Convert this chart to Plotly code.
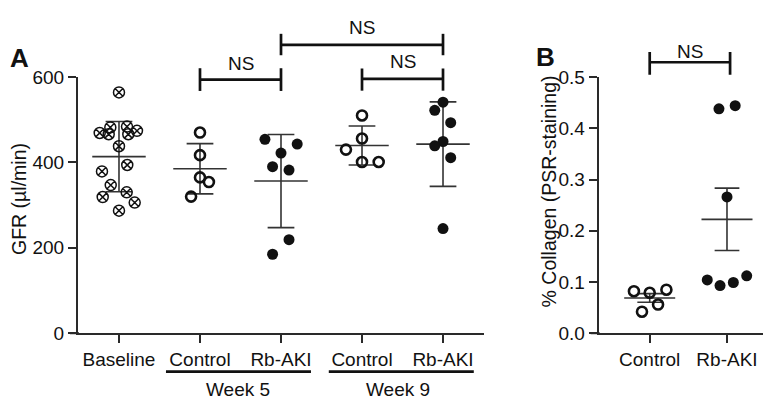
import numpy as np
import plotly.graph_objects as go

# ---------------- data ----------------
gfr_categories = ["Baseline", "Control", "Rb-AKI", "Control", "Rb-AKI"]
gfr_baseline = [564, 484, 482, 474, 469, 466, 466, 438, 394, 379, 347, 330, 319, 306, 287]
gfr_w5_control = [470, 417, 365, 354, 320]
gfr_w5_rbaki = [454, 443, 422, 390, 382, 219, 185]
gfr_w9_control = [510, 456, 430, 401, 401]
gfr_w9_rbaki = [541, 522, 493, 449, 439, 411, 245]
gfr_ticks = [0, 200, 400, 600]

col_categories = ["Control", "Rb-AKI"]
col_control = [0.082, 0.079, 0.085, 0.056, 0.042]
col_rbaki = [0.438, 0.444, 0.266, 0.104, 0.093, 0.099, 0.112]
col_ticks = [0.0, 0.1, 0.2, 0.3, 0.4, 0.5]

# horizontal jitter offsets (category units) for the dot plots
jit_baseline = [0, 0.099, -0.107, 0.222, -0.238, -0.127, 0.115, 0, 0.102, -0.21, -0.102, 0.095, -0.201, 0.194, 0]
jit_w5_control = [0, 0, 0, 0.11, -0.11]
jit_w5_rbaki = [-0.198, 0.2, 0, -0.104, 0.099, 0.099, -0.104]
jit_w9_control = [0, 0, -0.198, 0, 0.206]
jit_w9_rbaki = [0, -0.102, 0.095, 0, -0.102, 0.095, 0]
jit_col_control = [-0.204, 0, 0.216, 0.108, -0.1]
jit_col_rbaki = [-0.104, 0.106, 0, -0.255, -0.09, 0.082, 0.255]

FONT = "Arial, Liberation Sans, Helvetica, sans-serif"
INK = "#111111"
AX = "#2a2a2a"
EB = "#333333"

fig = go.Figure()

def dots(xpos, vals, jit, kind, xa, ya):
    xs = [xpos + j for j in jit]
    if kind == "x":
        m = dict(symbol="circle-x-open", size=11, color=INK, line=dict(width=1.5, color=INK))
    elif kind == "open":
        m = dict(symbol="circle-open", size=10, color=INK, line=dict(width=2.6, color=INK))
    else:
        m = dict(symbol="circle", size=11, color=INK, line=dict(width=0))
    fig.add_trace(go.Scatter(x=xs, y=vals, mode="markers", marker=m, xaxis=xa, yaxis=ya,
                             showlegend=False, hoverinfo="y", cliponaxis=False))

def errbar(xpos, vals, xa, ya, sem=False, hw=0.33, cw=0.165):
    v = np.array(vals, dtype=float)
    mean = v.mean()
    err = v.std(ddof=1)
    if sem:
        err = err / np.sqrt(len(v))
    xs = [xpos - hw, xpos + hw, None,
          xpos, xpos, None,
          xpos - cw, xpos + cw, None,
          xpos - cw, xpos + cw]
    ys = [mean, mean, None,
          mean - err, mean + err, None,
          mean + err, mean + err, None,
          mean - err, mean - err]
    fig.add_trace(go.Scatter(x=xs, y=ys, mode="lines", line=dict(color=EB, width=1.6),
                             xaxis=xa, yaxis=ya, showlegend=False, hoverinfo="skip"))

# panel A
groups = [(gfr_baseline, jit_baseline, "x"),
          (gfr_w5_control, jit_w5_control, "open"),
          (gfr_w5_rbaki, jit_w5_rbaki, "fill"),
          (gfr_w9_control, jit_w9_control, "open"),
          (gfr_w9_rbaki, jit_w9_rbaki, "fill")]
for i, (vals, jit, kind) in enumerate(groups):
    errbar(i, vals, "x", "y")
    dots(i, vals, jit, kind, "x", "y")

# panel B
errbar(0, col_control, "x2", "y2", sem=True, hw=0.33, cw=0.16)
dots(0, col_control, jit_col_control, "open", "x2", "y2")
errbar(1, col_rbaki, "x2", "y2", sem=True, hw=0.33, cw=0.16)
dots(1, col_rbaki, jit_col_rbaki, "fill", "x2", "y2")

W, H = 771, 400
ydom = [1 - 332.7 / H, 1 - 62.3 / H]
tickfont = dict(family=FONT, size=19, color=INK)

axis_common = dict(showgrid=False, zeroline=False, showline=True, linecolor=AX, linewidth=2,
                   ticks="outside", ticklen=8, tickwidth=2, tickcolor=AX, tickfont=tickfont)

fig.update_layout(
    width=W, height=H, margin=dict(l=0, r=0, t=0, b=0),
    paper_bgcolor="white", plot_bgcolor="white",
    xaxis=dict(domain=[70 / W, 476 / W], range=[-0.506, 4.506], tickvals=list(range(5)),
               ticktext=gfr_categories, anchor="y", **axis_common),
    yaxis=dict(domain=ydom, range=[0, 600], tickvals=gfr_ticks, anchor="x", **axis_common),
    xaxis2=dict(domain=[590.7 / W, 770 / W], range=[-0.66, 1.66], tickvals=[0, 1],
                ticktext=col_categories, anchor="y2", **axis_common),
    yaxis2=dict(domain=ydom, range=[0, 0.5], tickvals=col_ticks, tickformat=".1f",
                anchor="x2", **axis_common),
)

def py(px):
    return 1 - px / H

shapes = []
def bracket(xref, x0, x1, yh, ytop, ybot):
    lw = 2.7
    shapes.append(dict(type="line", xref=xref, yref="paper", x0=x0, x1=x1, y0=py(yh), y1=py(yh),
                       line=dict(color=INK, width=lw)))
    for xx in (x0, x1):
        shapes.append(dict(type="line", xref=xref, yref="paper", x0=xx, x1=xx, y0=py(ytop), y1=py(ybot),
                           line=dict(color=INK, width=lw)))

bracket("x", 1, 2, 65, 53, 77)
bracket("x", 2, 4, 28.3, 16.7, 39.3)
bracket("x", 3, 4, 64.3, 53.3, 76.7)
bracket("x2", 0, 1.04, 46.7, 36, 60)

# short x-axis extensions left of the y axes (Prism style)
for x0 in (62, 582.7):
    shapes.append(dict(type="line", xref="paper", yref="paper", x0=x0 / W, x1=(x0 + 9) / W,
                       y0=py(332.7), y1=py(332.7), line=dict(color=AX, width=2)))

# week underlines
for x0, x1 in [(0.58, 2.37), (2.59, 4.38)]:
    shapes.append(dict(type="line", xref="x", yref="paper", x0=x0, x1=x1, y0=py(373.3), y1=py(373.3),
                       line=dict(color=INK, width=2.7)))
fig.update_layout(shapes=shapes)

ann = []
def txt(text, x, y, xref="paper", size=19, bold=False, angle=0):
    ann.append(dict(text=f"<b>{text}</b>" if bold else text, x=x, y=y, xref=xref, yref="paper",
                    showarrow=False, xanchor="center", yanchor="middle", textangle=angle,
                    font=dict(family=FONT, size=size, color=INK)))

txt("NS", 1.5, py(47.5), "x")
txt("NS", 3.0, py(9.5), "x")
txt("NS", 3.5, py(45.7), "x")
txt("NS", 0.52, py(35.5), "x2")
txt("Week 5", 1.475, py(392), "x")
txt("Week 9", 3.45, py(392), "x")
txt("A", 11 / W, py(42.5), size=26, bold=True)
txt("B", 537 / W, py(41), size=26, bold=True)
txt("GFR (µl/min)", 11 / W, py(191), size=19.5, angle=-90)
txt("% Collagen (PSR-staining)", 541 / W, py(183), size=19.5, angle=-90)
fig.update_layout(annotations=ann)

fig.write_html("out.html")
